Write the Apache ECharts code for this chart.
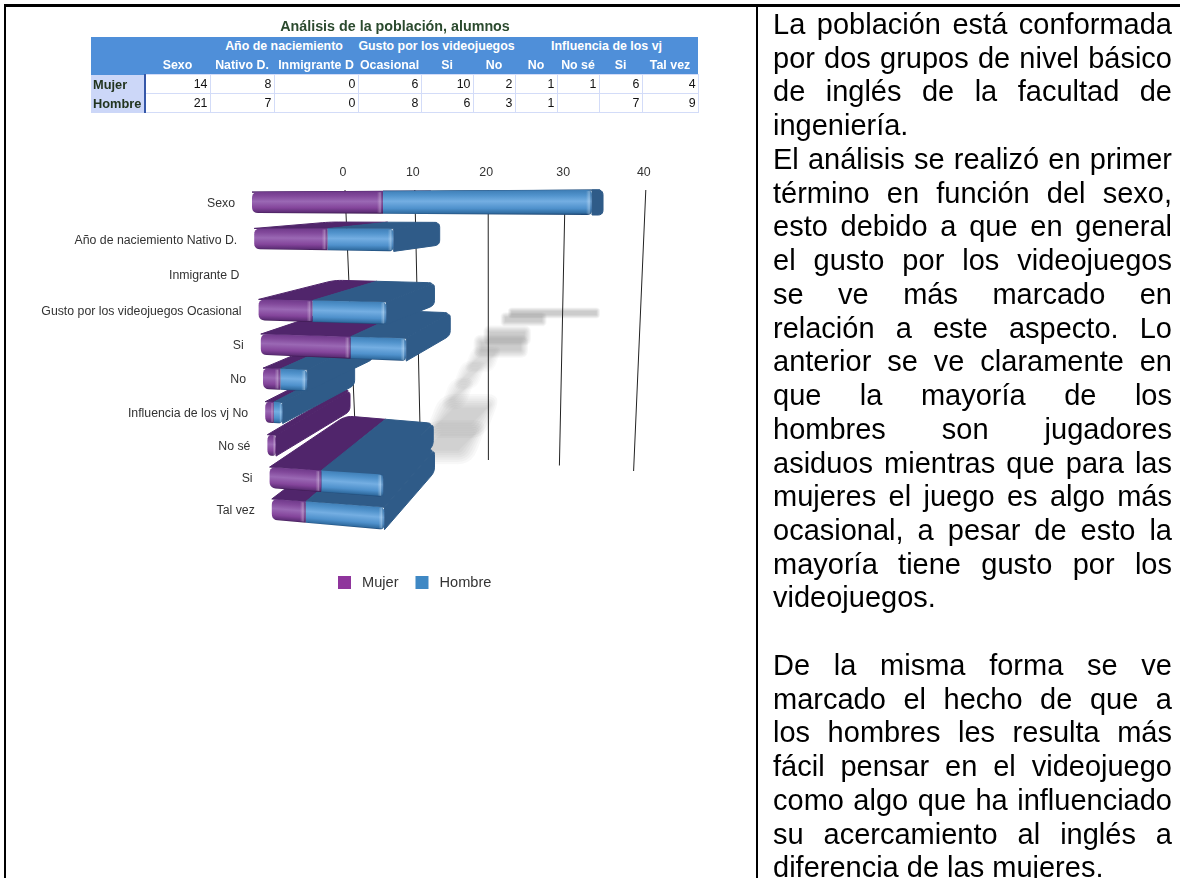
<!DOCTYPE html>
<html lang="es">
<head>
<meta charset="utf-8">
<title>Análisis de la población, alumnos</title>
<script src="https://cdn.jsdelivr.net/npm/echarts@6/dist/echarts.min.js"></script>
<style>
  html, body { margin: 0; padding: 0; background: #fff; width: 1180px; height: 878px; overflow: hidden; }
  #chart { position: absolute; left: 0; top: 0; width: 1180px; height: 878px; }
  .rule { position: absolute; background: #000; }
  #tbl { position: absolute; left: 91px; top: 37px; border-collapse: collapse; table-layout: fixed; width: 607px;
         font: bold 12.4px "Liberation Sans", Arial, sans-serif; }
  #tbl td { padding: 0; white-space: nowrap; overflow: hidden; }
  #tbl .h { background: #4f8fd9; color: #fff; text-align: center; height: 18.5px; }
  #tbl .n { background: #ccd7f8; color: #22351f; font-size: 12.8px; padding-left: 2px; border-right: 2px solid #3557a8; height: 18px; }
  #tbl .v { background: #fff; color: #111; font-weight: normal; text-align: right; padding-right: 2px; font-size: 12.4px;
            border: 1px solid #d3dcf8; border-left-width: 1px; height: 18px; }
  #para { position: absolute; left: 773px; top: 8px; width: 399px; color: #000;
          font: 29px/33.74px "Liberation Sans", Arial, sans-serif; }
  #para div { height: 33.74px; white-space: nowrap; }
  #para div.j { white-space: normal; text-align: justify; text-align-last: justify; }
</style>
</head>
<body>
<div id="chart"></div>
<div class="rule" style="left:4px;top:4px;width:1176px;height:3px"></div>
<div class="rule" style="left:4px;top:4px;width:2px;height:874px"></div>
<div class="rule" style="left:756px;top:4px;width:2px;height:874px"></div>
<table id="tbl"></table>
<div id="para"></div>
<script>
// ---- data ----
const chartTitle = 'Análisis de la población, alumnos';
const categories = ['Sexo', 'Año de naciemiento Nativo D.', 'Inmigrante D', 'Gusto por los videojuegos Ocasional', 'Si', 'No', 'Influencia de los vj No', 'No sé', 'Si', 'Tal vez'];
const mujer  = [14, 8, 0, 6, 10, 2, 1, 1, 6, 4];
const hombre = [21, 7, 0, 8, 6, 3, 1, null, 7, 9];
const tickValues = [0, 10, 20, 30, 40];
const seriesNames = ['Mujer', 'Hombre'];
const groupHeaders = [['', 2], ['Año de naciemiento', 2], ['Gusto por los videojuegos', 3], ['Influencia de los vj', 4]];
const columnHeaders = ['Sexo', 'Nativo D.', 'Inmigrante D', 'Ocasional', 'Si', 'No', 'No', 'No sé', 'Si', 'Tal vez'];
const paragraphLines = [
  ['La población está conformada', 1], ['por dos grupos de nivel básico', 1], ['de inglés de la facultad de', 1], ['ingeniería.', 0],
  ['El análisis se realizó en primer', 1], ['término en función del sexo,', 1], ['esto debido a que en general', 1],
  ['el gusto por los videojuegos', 1], ['se ve más marcado en', 1], ['relación a este aspecto. Lo', 1],
  ['anterior se ve claramente en', 1], ['que la mayoría de los', 1], ['hombres son jugadores', 1],
  ['asiduos mientras que para las', 1], ['mujeres el juego es algo más', 1], ['ocasional, a pesar de esto la', 1],
  ['mayoría tiene gusto por los', 1], ['videojuegos.', 0], ['\u00a0', 0],
  ['De la misma forma se ve', 1], ['marcado el hecho de que a', 1], ['los hombres les resulta más', 1],
  ['fácil pensar en el videojuego', 1], ['como algo que ha influenciado', 1], ['su acercamiento al inglés a', 1], ['diferencia de las mujeres.', 0]
];

// ---- page text ----
const colEnds = [145, 210, 274, 358, 421, 473, 515, 557, 599, 642, 698];
const tbl = document.getElementById('tbl');
let html = '<colgroup>';
colEnds.forEach((e, i) => { html += '<col style="width:' + (e - (i ? colEnds[i - 1] : 91)) + 'px">'; });
html += '</colgroup><tr>' + groupHeaders.map(g => '<td class="h" colspan="' + g[1] + '">' + g[0] + '</td>').join('') + '</tr>';
html += '<tr><td class="h"></td>' + columnHeaders.map(c => '<td class="h">' + c + '</td>').join('') + '</tr>';
[[seriesNames[0], mujer], [seriesNames[1], hombre]].forEach(row => {
  html += '<tr><td class="n">' + row[0] + '</td>' + row[1].map(v => '<td class="v">' + (v === null ? '' : v) + '</td>').join('') + '</tr>';
});
tbl.innerHTML = html;
document.getElementById('para').innerHTML = paragraphLines.map(l => '<div class="' + (l[1] ? 'j' : '') + '">' + l[0] + '</div>').join('');

// ---- scene projection: turns the flat grid coordinates into the tilted 3D view ----
const GRID = { left: 252, top: 185, width: 360, height: 350 };
const unit = GRID.width / 40, band = GRID.height / categories.length;
const valueOf = px => (px - GRID.left) / unit;
const rowOf = py => (py - GRID.top) / band - 0.5;
const leftOf = r => 252 + 2.2 * r;
const centerOf = r => 202.5 + 36.6 * r - 0.278 * r * r;
function frontP(v, r, h) {
  const dxv = (9.12 * v + 0.017 * v * v) * (1 - 0.008 * r);
  const half = 10.4 + 0.06 * v;
  return [leftOf(r) + dxv, centerOf(r) + 0.009 * r * dxv + h * half];
}
function backP(v, r, h) {
  const f = frontP(v, r, h);
  return [f[0] + Math.max(11, 76 - 2 * v), f[1] - 6.4 * r];
}
function wallP(v, t) { // t = 0 at top of the gridline, 1 at its foot
  const top = 345 + 6.8 * v + 0.018 * v * v, foot = 356 + 6.3 * v + 0.016 * v * v;
  const y0 = 190, y1 = 449 + 0.55 * v;
  return [top + (foot - top) * t, y0 + (y1 - y0) * t];
}
function rounded(points, radii) {
  const out = [], n = points.length;
  points.forEach((p, i) => {
    const a = points[(i + n - 1) % n], b = points[(i + 1) % n], rad = radii[i];
    if (!rad) { out.push(p); return; }
    const la = Math.hypot(a[0] - p[0], a[1] - p[1]) || 1, lb = Math.hypot(b[0] - p[0], b[1] - p[1]) || 1;
    const ra = Math.min(rad, la / 2) / la, rb = Math.min(rad, lb / 2) / lb;
    const s = [p[0] + (a[0] - p[0]) * ra, p[1] + (a[1] - p[1]) * ra], e = [p[0] + (b[0] - p[0]) * rb, p[1] + (b[1] - p[1]) * rb];
    for (let k = 0; k <= 5; k++) {
      const t = k / 5, u = 1 - t;
      out.push([u * u * s[0] + 2 * u * t * p[0] + t * t * e[0], u * u * s[1] + 2 * u * t * p[1] + t * t * e[1]]);
    }
  });
  return out;
}

const PALETTE = {
  Mujer:  { legend: '#8f359c', top: '#50256b', stops: ['#703a8b', '#82499b', '#9a68b4', '#84459b', '#5f2e78', '#3d1a52'] },
  Hombre: { legend: '#3f88c4', top: '#2f5b88', stops: ['#4080b8', '#5193cc', '#74aee2', '#4f91cc', '#326ea3', '#1f4a78'] }
};
function barRenderer(name) {
  const c = PALETTE[name];
  return function (params, api) {
    const p0 = api.coord([api.value(0), api.value(2)]), p1 = api.coord([api.value(1), api.value(2)]);
    const v0 = valueOf(p0[0]), v1 = valueOf(p1[0]), r = Math.round(rowOf(p0[1]));
    if (v1 - v0 <= 0) return null;
    const isFirst = v0 === 0, isLast = api.value(3) === 1, z = (categories.length - r) * 10;
    const kids = [];
    const poly = (pts, style, zz) => kids.push({ type: 'polygon', shape: { points: pts }, style: style, z2: z + zz, silent: true });
    const topC = c.top;
    poly(rounded([frontP(v0, r, -1), frontP(v1, r, -1), backP(v1, r, -1), backP(v0, r, -1)], [0, 0, isLast ? 6 : 0, isFirst ? 8 : 0]),
      { fill: topC, stroke: topC, lineWidth: 1, lineJoin: 'round' }, name === 'Mujer' ? 0 : 1);
    if (isLast) {
      poly(rounded([frontP(v1, r, -1), backP(v1, r, -1), backP(v1, r, 1), frontP(v1, r, 1)], [0, 5, 5, 0]),
        { fill: topC, stroke: topC, lineWidth: 1, lineJoin: 'round' }, 2);
    }
    const a = frontP((v0 + v1) / 2, r, -1), b = frontP((v0 + v1) / 2, r, 1);
    const s = 0.009 * r;
    const gx = -s * (b[1] - a[1]), gy = b[1] - a[1];
    const grad = new echarts.graphic.LinearGradient(a[0], a[1], a[0] + gx, a[1] + gy, [
      { offset: 0, color: c.stops[0] }, { offset: 0.2, color: c.stops[1] }, { offset: 0.45, color: c.stops[2] },
      { offset: 0.75, color: c.stops[3] }, { offset: 0.94, color: c.stops[4] }, { offset: 1, color: c.stops[5] }
    ], true);
    const corners = [frontP(v0, r, -1), frontP(v1, r, -1), frontP(v1, r, 1), frontP(v0, r, 1)];
    const radL = isFirst ? 6 : 0, radR = isLast ? 5 : 0;
    poly(rounded(corners, [radL, radR, radR, radL]), { fill: grad }, 3);
    // rounded bevel at the end of each segment
    const bw = Math.min(6, (corners[1][0] - corners[0][0]) * 0.4);
    const bev = new echarts.graphic.LinearGradient(corners[1][0] - bw, 0, corners[1][0], 0, [
      { offset: 0, color: 'rgba(255,255,255,0)' }, { offset: 0.55, color: 'rgba(255,255,255,0.3)' },
      { offset: 0.82, color: 'rgba(20,20,40,0.08)' }, { offset: 1, color: 'rgba(10,10,40,0.3)' }
    ], true);
    poly(rounded([[corners[1][0] - bw, corners[1][1] - s * bw + 1], [corners[1][0], corners[1][1] + 1],
      [corners[2][0], corners[2][1] - 1], [corners[2][0] - bw, corners[2][1] - s * bw - 1]],
      [0, radR, radR, 0]), { fill: bev }, 4);
    return { type: 'group', children: kids };
  };
}
function shadowRenderer(params, api) {
  const p = api.coord([api.value(0), api.value(1)]);
  const total = valueOf(p[0]), r = Math.round(rowOf(p[1]));
  if (!total) return null;
  const x = 512 - 6 * r - 0.4 * r * r, y = 313 + 6 * r + 0.3 * r * r + 0.07 * r * r * r;
  const h = r > 7 ? 14 : 3 + r, sk = r > 4 ? h * 1.2 : 0, len = 2.4 * total;
  const reach = r > 7 ? 15 : 4 + r;
  const alpha = r > 7 ? 0.045 : r > 4 ? 0.032 : 0.05;
  const kids = [];
  [1, 0.85, 0.7, 0.55, 0.4, 0.25, 0.1].forEach(f => {
    const e = reach * f;
    const pts = [[x - e, y + h / 2 + e], [x + len + e, y + h / 2 + e], [x + len + sk + e, y - h / 2 - e], [x + sk - e, y - h / 2 - e]];
    kids.push({ type: 'polygon', shape: { points: rounded(pts, [e, e, e, e]) },
      style: { fill: 'rgba(95,95,95,' + alpha + ')' }, silent: true });
  });
  return { type: 'group', children: kids };
}
function wallRenderer(params, api) {
  const v = valueOf(api.coord([api.value(0), 0])[0]);
  const a = wallP(v, 0), b = wallP(v, 1);
  return { type: 'group', children: [
    { type: 'line', shape: { x1: a[0], y1: a[1], x2: b[0], y2: b[1] }, style: { stroke: '#222', lineWidth: 1 }, silent: true },
    { type: 'text', style: { x: a[0] - 2, y: 173, text: String(api.value(0)), fill: '#333', fontSize: 12.4,
        fontFamily: '"Liberation Sans", Arial, sans-serif', align: 'center', verticalAlign: 'middle' }, silent: true }
  ] };
}
function labelRenderer(params, api) {
  const idx = api.value(0), p = api.coord([0, idx]);
  const r = rowOf(p[1]);
  return { type: 'text', style: { x: leftOf(r) - 17, y: 204 + 36.6 * r - 0.278 * r * r, text: categories[idx], fill: '#333', fontSize: 12.3,
      fontFamily: '"Liberation Sans", Arial, sans-serif', align: 'right', verticalAlign: 'middle' }, silent: true };
}

const rows = categories.map((c, i) => i);
const mujerData = rows.map(i => [0, mujer[i], i, hombre[i] === null ? 1 : 0]);
const hombreData = rows.map(i => [mujer[i], mujer[i] + (hombre[i] || 0), i, 1]);
const shadowData = rows.map(i => [mujer[i] + (hombre[i] || 0), i]);

const chart = echarts.init(document.getElementById('chart'), null, { renderer: 'canvas' });
chart.setOption({
  animation: false,
  backgroundColor: '#fff',
  title: { text: chartTitle, left: 390, top: 15, textAlign: 'center',
    textStyle: { fontSize: 14.3, fontWeight: 'bold', color: '#2b4a2e', fontFamily: '"Liberation Sans", Arial, sans-serif' } },
  legend: { data: seriesNames, left: 338, top: 575, padding: 0, icon: 'rect', itemWidth: 13, itemHeight: 13, itemGap: 17, selectedMode: false,
    textStyle: { fontSize: 14.6, color: '#333', fontFamily: '"Liberation Sans", Arial, sans-serif', padding: [0, 0, 0, 6] } },
  grid: GRID,
  xAxis: { type: 'value', min: 0, max: 40, interval: 10, show: false },
  yAxis: { type: 'category', data: categories, inverse: true, show: false },
  series: [
    { type: 'custom', name: 'sombra', z: 1, data: shadowData, encode: { x: 0, y: 1 }, renderItem: shadowRenderer, clip: false },
    { type: 'custom', name: 'eje', z: 2, data: tickValues.map(v => [v]), encode: { x: 0 }, renderItem: wallRenderer, clip: false },
    { type: 'custom', name: 'categorías', z: 2, data: rows.map(i => [i]), encode: { y: 0 }, renderItem: labelRenderer, clip: false },
    { type: 'custom', name: seriesNames[0], z: 3, data: mujerData, encode: { x: [0, 1], y: 2 }, renderItem: barRenderer('Mujer'),
      itemStyle: { color: PALETTE.Mujer.legend }, clip: false },
    { type: 'custom', name: seriesNames[1], z: 3, data: hombreData, encode: { x: [0, 1], y: 2 }, renderItem: barRenderer('Hombre'),
      itemStyle: { color: PALETTE.Hombre.legend }, clip: false }
  ]
});
</script>
</body>
</html>
